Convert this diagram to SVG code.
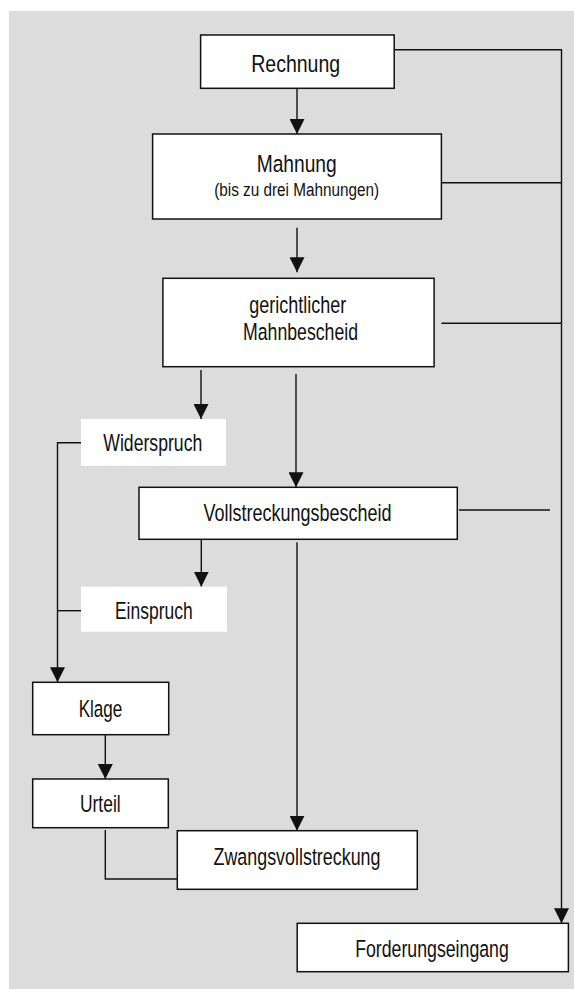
<svg xmlns="http://www.w3.org/2000/svg" width="574" height="989" viewBox="0 0 574 989">
<style>
.box{fill:#fff;stroke:#111;stroke-width:1.5}
.lbl{fill:#fff;stroke:none}
.t{font-family:"Liberation Sans Narrow","Liberation Sans",Arial,sans-serif;font-size:24.5px;fill:#111;text-anchor:middle}
.s{font-size:18px}
.c{fill:none;stroke:#111;stroke-width:1.4}
.a{marker-end:url(#ah)}
</style>
<defs>
<marker id="ah" markerUnits="userSpaceOnUse" markerWidth="15" markerHeight="15" viewBox="0 0 15 15" refX="15" refY="7.5" orient="auto">
<path d="M0,0 L15,7.5 L0,15 z" fill="#111"/>
</marker>
</defs>
<rect x="9" y="11" width="565" height="978" fill="#dcdcdc"/>
<g id="connectors">
<path class="c a" d="M297,88.3 V134"/>
<path class="c a" d="M297,227.7 V272.3"/>
<path class="c a" d="M201,370 V419"/>
<path class="c a" d="M296,374 V487.3"/>
<path class="c a" d="M81,442.7 H57.5 V682.3"/>
<path class="c" d="M81,610.7 H57.5"/>
<path class="c a" d="M201.3,539.3 V586.7"/>
<path class="c a" d="M297,542.3 V830.7"/>
<path class="c a" d="M105.3,734.7 V779"/>
<path class="c" d="M105.3,830 V879 H177.3"/>
<path class="c a" d="M394,49.7 H561.5 V923.3"/>
<path class="c" d="M441.4,182.7 H561.5"/>
<path class="c" d="M441.4,323.3 H561.5"/>
<path class="c" d="M459,510 H550"/>
</g>
<g id="rechnung">
<rect class="box" x="200.6" y="35" width="193.6" height="53.3"/>
<text class="t" x="295.7" y="71.5" textLength="89" lengthAdjust="spacingAndGlyphs">Rechnung</text>
</g>
<g id="mahnung">
<rect class="box" x="152.6" y="134" width="288.8" height="85"/>
<text class="t" x="296.7" y="171.7" textLength="80" lengthAdjust="spacingAndGlyphs">Mahnung</text>
<text class="t s" x="296.7" y="196" textLength="165" lengthAdjust="spacingAndGlyphs">(bis zu drei Mahnungen)</text>
</g>
<g id="mahnbescheid">
<rect class="box" x="162.9" y="278.3" width="271.2" height="88.4"/>
<text class="t" x="297.8" y="313" textLength="97" lengthAdjust="spacingAndGlyphs">gerichtlicher</text>
<text class="t" x="300.5" y="340" textLength="115" lengthAdjust="spacingAndGlyphs">Mahnbescheid</text>
</g>
<g id="widerspruch">
<rect class="lbl" x="81" y="419" width="145" height="46.7"/>
<text class="t" x="152.8" y="451" textLength="99" lengthAdjust="spacingAndGlyphs">Widerspruch</text>
</g>
<g id="vollstreckungsbescheid">
<rect class="box" x="139" y="487.3" width="318.3" height="52"/>
<text class="t" x="297.5" y="521" textLength="188" lengthAdjust="spacingAndGlyphs">Vollstreckungsbescheid</text>
</g>
<g id="einspruch">
<rect class="lbl" x="81" y="586.7" width="146" height="45"/>
<text class="t" x="153.8" y="618.5" textLength="77.7" lengthAdjust="spacingAndGlyphs">Einspruch</text>
</g>
<g id="klage">
<rect class="box" x="32.7" y="682.3" width="136" height="52.4"/>
<text class="t" x="100.5" y="716.5" textLength="43.7" lengthAdjust="spacingAndGlyphs">Klage</text>
</g>
<g id="urteil">
<rect class="box" x="32.7" y="779" width="135.6" height="48.7"/>
<text class="t" x="100.3" y="811.7" textLength="40.7" lengthAdjust="spacingAndGlyphs">Urteil</text>
</g>
<g id="zwangsvollstreckung">
<rect class="box" x="177.3" y="830.7" width="240" height="58.6"/>
<text class="t" x="297" y="865" textLength="167" lengthAdjust="spacingAndGlyphs">Zwangsvollstreckung</text>
</g>
<g id="forderungseingang">
<rect class="box" x="297.2" y="923.3" width="271.2" height="48.4"/>
<text class="t" x="432" y="956.5" textLength="153.7" lengthAdjust="spacingAndGlyphs">Forderungseingang</text>
</g>
</svg>
